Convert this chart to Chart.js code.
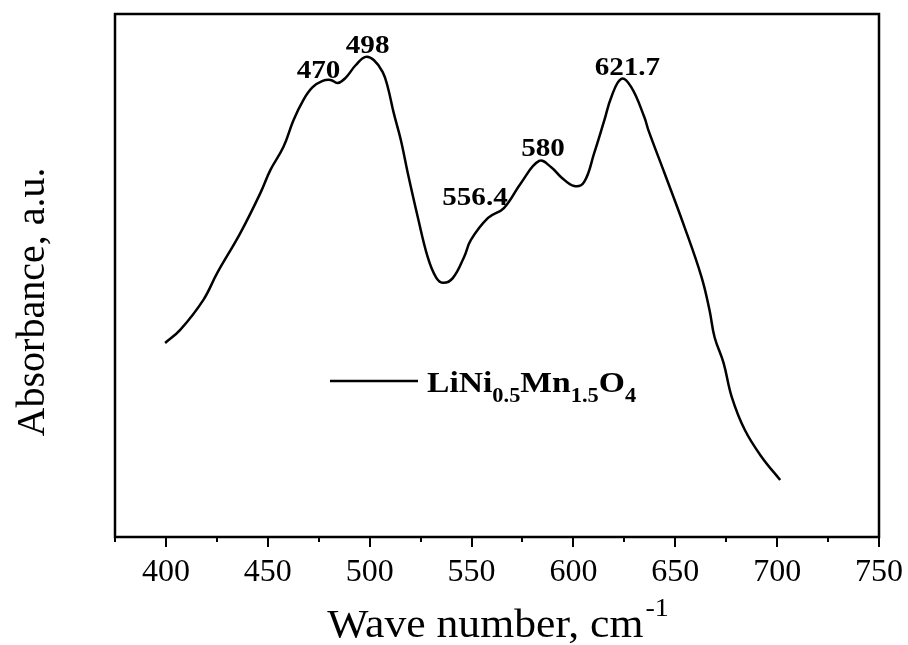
<!DOCTYPE html>
<html><head><meta charset="utf-8">
<script src="https://cdn.jsdelivr.net/npm/chart.js@4.4.1/dist/chart.umd.min.js"></script>
<style>html,body{margin:0;padding:0;background:#fff}#wrap{width:908px;height:645px}</style>
</head><body><div id="wrap"><canvas id="c" width="908" height="645"></canvas></div>
<script>
const wavenumber = [399.6,407,418.3,425.2,436.5,446.4,451.3,457.7,462.6,467.5,472,476.9,480.8,484.3,488.2,493.1,498,502,506.4,508.9,511.8,515.3,518.7,523.6,528.5,532.5,535.9,540.8,546.3,549.7,558.1,565.9,574.3,583.2,589.1,594,600.4,605.3,610.2,615.2,618.6,623.5,628.4,634.8,636.8,644.7,654.5,662.9,666.8,669.3,673.7,677.7,684.1,692.4,701.5];
const absorbance = [37.1,39.6,45.3,50.5,58.1,65.8,70.2,74.6,79.7,83.6,86.0,87.2,87.4,86.8,87.8,90.2,91.8,91.2,88.9,86.0,81.1,75.9,69.6,61.2,53.5,49.7,48.6,49.5,53.5,56.8,61.0,62.9,67.7,71.9,70.7,68.8,67.1,67.9,73.4,79.7,84.1,87.6,86.0,80.3,77.8,69.6,59.3,49.7,43.4,38.2,33.3,26.8,20.5,15.3,10.9];
const xTicks = [375,400,425,450,475,500,525,550,575,600,625,650,675,700,725,750];
const xMajor = [400,450,500,550,600,650,700,750];
const peakLabels = ['470','498','556.4','580','621.7'];
const peakLabelX = [474.9,499.0,551.7,585.1,626.5];
const peakLabelY = [87.8,92.5,63.5,72.8,88.3];
const seriesName = [['LiNi',0],['0.5',1],['Mn',0],['1.5',1],['O',0],['4',1]];

const SX = 1.12;
function wideText(ctx, t, x, y, align){
  const w = ctx.measureText(t).width * SX;
  let x0 = x;
  if (align === 'center') x0 = x - w/2;
  ctx.save();
  ctx.translate(x0, y);
  ctx.scale(SX, 1);
  ctx.textAlign = 'left';
  ctx.fillText(t, 0, 0);
  ctx.restore();
  return w;
}

const deco = {
  id:'deco',
  afterDraw(chart){
    const ctx = chart.ctx, a = chart.chartArea, xs = chart.scales.x, ys = chart.scales.y;
    ctx.save();
    ctx.strokeStyle = '#000';
    ctx.lineWidth = 2.5;
    ctx.strokeRect(a.left, a.top, a.right-a.left, a.bottom-a.top);
    ctx.lineWidth = 2;
    xTicks.forEach(v=>{
      const px = Math.round(xs.getPixelForValue(v));
      const len = xMajor.includes(v) ? 10 : 5;
      ctx.beginPath(); ctx.moveTo(px, a.bottom); ctx.lineTo(px, a.bottom+len); ctx.stroke();
    });
    ctx.fillStyle = '#000';
    ctx.textBaseline = 'alphabetic';
    ctx.font = 'bold 26px "Liberation Serif"';
    peakLabels.forEach((t,i)=>{
      wideText(ctx, t, xs.getPixelForValue(peakLabelX[i]), ys.getPixelForValue(peakLabelY[i]), 'center');
    });
    // legend
    const lx0 = a.left + 215, lx1 = a.left + 303, ly = a.top + 367;
    ctx.lineWidth = 2.5;
    ctx.beginPath(); ctx.moveTo(lx0, ly); ctx.lineTo(lx1, ly); ctx.stroke();
    let x = a.left + 312; const base = a.top + 378;
    seriesName.forEach(([t,sub])=>{
      ctx.font = sub ? 'bold 20px "Liberation Serif"' : 'bold 30px "Liberation Serif"';
      x += wideText(ctx, t, x, sub ? base + 10 : base, 'left');
    });
    // x title
    ctx.font = '39px "Liberation Serif"';
    const t1 = 'Wave number, cm';
    const w1 = ctx.measureText(t1).width * SX;
    ctx.font = '25px "Liberation Serif"';
    const w2 = ctx.measureText('-1').width * SX;
    const cx = (a.left + a.right)/2;
    let sx = cx - (w1 + w2)/2;
    ctx.font = '39px "Liberation Serif"';
    wideText(ctx, t1, sx, 637, 'left');
    ctx.font = '25px "Liberation Serif"';
    wideText(ctx, '-1', sx + w1 + 2, 616, 'left');
    // y title
    ctx.translate(44, 302);
    ctx.rotate(-Math.PI/2);
    ctx.textAlign = 'center';
    ctx.font = '40px "Liberation Serif"';
    ctx.fillText('Absorbance, a.u.', 0, 0);
    ctx.restore();
  }
};

new Chart(document.getElementById('c'), {
  type:'line',
  data:{ datasets:[{
    label:'LiNi0.5Mn1.5O4',
    data: wavenumber.map((w,i)=>({x:w, y:absorbance[i]})),
    borderColor:'#000', borderWidth:2.5, pointRadius:0,
    tension:0.4, fill:false
  }]},
  options:{
    responsive:false, animation:false, devicePixelRatio:1,
    layout:{padding:{left:115, top:14, right:29, bottom:0}},
    plugins:{legend:{display:false}, tooltip:{enabled:false}},
    scales:{
      x:{ type:'linear', min:375, max:750,
        afterBuildTicks(s){ s.ticks = xTicks.map(v=>({value:v})); },
        afterFit(s){ s.height = 108; s.paddingLeft = 0; s.paddingRight = 0; },
        grid:{display:false, drawTicks:false}, border:{display:false},
        ticks:{ autoSkip:false, maxRotation:0, padding:16, color:'#000',
          font:{family:'Liberation Serif', size:32},
          callback:(v)=> xMajor.includes(v) ? String(v) : '' }
      },
      y:{ type:'linear', min:0, max:100, display:false }
    }
  },
  plugins:[deco]
});
</script></body></html>
